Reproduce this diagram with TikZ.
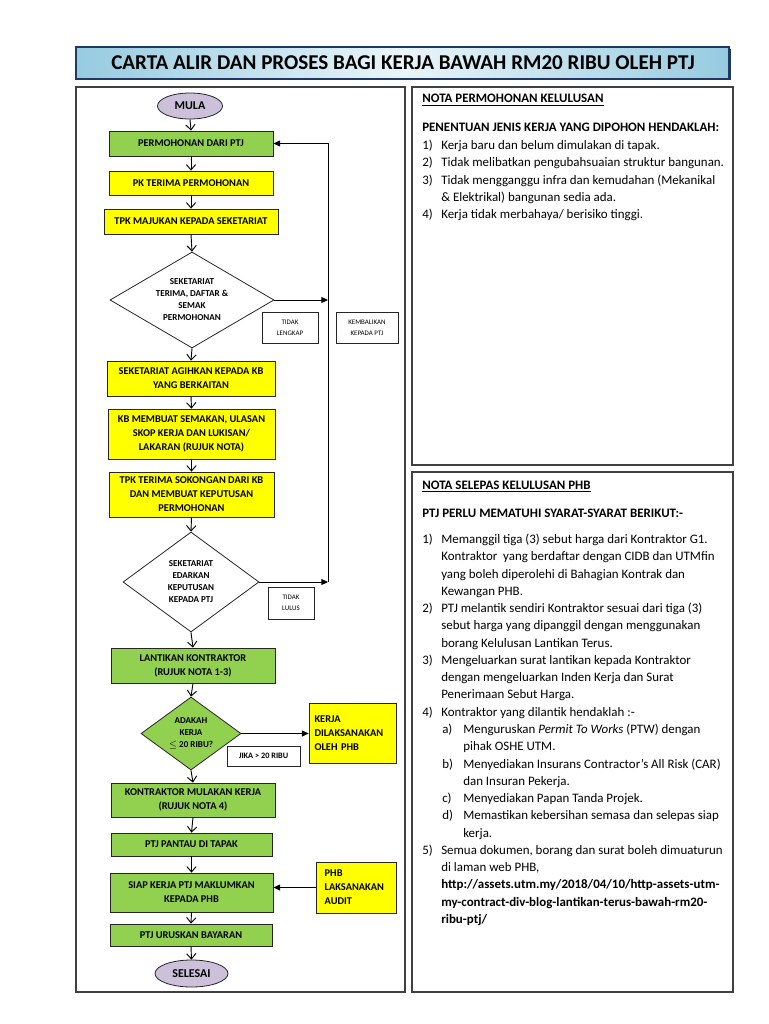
\documentclass[tikz,border=0pt]{standalone}
\usepackage{fontspec}
\setmainfont{Carlito}
\usetikzlibrary{shapes.geometric,arrows.meta}

\definecolor{hijau}{RGB}{146,208,80}
\definecolor{kuning}{RGB}{255,255,0}
\definecolor{ungu}{RGB}{204,192,218}
\definecolor{birutua}{RGB}{31,56,100}
\definecolor{birumuda}{RGB}{150,203,224}
\definecolor{biruputih}{RGB}{234,245,250}

\tikzset{
  kotak/.style={draw=black!85, line width=0.6pt, inner sep=1pt, align=center, font=\bfseries\fontsize{7.8}{10.5}\selectfont},
  kotakhijau/.style={kotak, fill=hijau},
  kotakkuning/.style={kotak, fill=kuning},
  keputusan/.style={diamond, draw=black!85, line width=0.6pt, inner sep=0pt, align=center, font=\bfseries\fontsize{6.8}{9}\selectfont},
  catatan/.style={draw=black!85, line width=0.5pt, fill=white, inner sep=1pt, align=center, font=\fontsize{5.2}{8}\selectfont},
  terminal/.style={ellipse, draw=black!85, line width=0.6pt, fill=ungu, inner sep=0pt, font=\bfseries\fontsize{9}{11}\selectfont},
  turun/.style={-{Straight Barb[length=4pt,width=7pt]}, line width=0.7pt},
  balik/.style={-{Triangle[length=5pt,width=4.5pt]}, line width=0.7pt},
  nota/.style={anchor=base west, inner sep=0pt, font=\fontsize{9.7}{11}\selectfont},
  notatebal/.style={nota, font=\bfseries\fontsize{9.7}{11}\selectfont},
}

\begin{document}
\begin{tikzpicture}[x=0.75pt,y=0.75pt,yscale=-1,xscale=1]
\useasboundingbox (0,0) rectangle (768,1024);

%Shape: Title Rectangle
\fill [birutua] (78,49) rectangle (730.5,80.5);
\draw [draw=birutua, line width=0.8pt, left color=birumuda, right color=birumuda, middle color=biruputih] (76,47) rectangle (729,79);
% Text Node
\node [inner sep=0pt, font=\bfseries\fontsize{15.8}{18}\selectfont] (judul) at (403,63) {CARTA ALIR DAN PROSES BAGI KERJA BAWAH RM20 RIBU OLEH PTJ};

%Shape: Panel Rectangles
\draw [black!75, line width=0.9pt] (76,87) rectangle (405,992);
\draw [black!75, line width=0.9pt] (412,87) rectangle (733,465);
\draw [black!75, line width=0.9pt] (412,472) rectangle (733,992);

%Flow nodes
\node [terminal, minimum width=48.75pt, minimum height=19.5pt] (mula) at (190,106) {MULA};
\node [kotakhijau, minimum width=123pt, minimum height=18.75pt] (perm) at (191,143.5) {PERMOHONAN DARI PTJ};
\node [kotakkuning, minimum width=123pt, minimum height=18pt] (pk) at (191,183) {PK TERIMA PERMOHONAN};
\node [kotakkuning, minimum width=130.5pt, minimum height=18.75pt] (tpk) at (191,221.5) {TPK MAJUKAN KEPADA SEKETARIAT};
\node [keputusan, aspect=1.71, minimum width=123pt, minimum height=72pt] (semak) at (192,300) {SEKETARIAT\\TERIMA, DAFTAR \&\\SEMAK\\PERMOHONAN};
\node [catatan, minimum width=42pt, minimum height=23.25pt] (lengkap) at (290,327.5) {TIDAK\\LENGKAP};
\node [catatan, minimum width=46.5pt, minimum height=23.25pt] (kembali) at (367,327.5) {KEMBALIKAN\\KEPADA PTJ};
\node [kotakkuning, minimum width=126pt, minimum height=26.25pt] (agih) at (191,378.5) {SEKETARIAT AGIHKAN KEPADA KB\\YANG BERKAITAN};
\node [kotakkuning, minimum width=125.25pt, minimum height=37.5pt] (semakan) at (191.5,434) {KB MEMBUAT SEMAKAN, ULASAN\\SKOP KERJA DAN LUKISAN/\\LAKARAN (RUJUK NOTA)};
\node [kotakkuning, minimum width=123.75pt, minimum height=33.75pt] (sokong) at (191.5,494.5) {TPK TERIMA SOKONGAN DARI KB\\DAN MEMBUAT KEPUTUSAN\\PERMOHONAN};
\node [keputusan, aspect=1.36, minimum width=102pt, minimum height=75pt] (edar) at (191,582) {SEKETARIAT\\EDARKAN\\KEPUTUSAN\\KEPADA PTJ};
\node [catatan, minimum width=34.5pt, minimum height=24pt] (lulus) at (291,603) {TIDAK\\LULUS};
\node [kotakhijau, minimum width=123pt, minimum height=26.25pt] (lantik) at (193,665.5) {LANTIKAN KONTRAKTOR\\(RUJUK NOTA 1-3)};
\node [keputusan, fill=hijau, aspect=1.37, minimum width=75pt, minimum height=54.75pt] (had) at (191,733.5) {ADAKAH\\KERJA\\$\leq$ 20 RIBU?};
\node [kotakkuning, align=left, text width=57pt, inner xsep=4.1pt, minimum height=45pt] (phb) at (352.5,733) {KERJA\\DILAKSANAKAN\\OLEH PHB};
\node [catatan, font=\bfseries\fontsize{6.2}{8}\selectfont, minimum width=54.75pt, minimum height=15pt] (jika) at (263.5,756) {JIKA > 20 RIBU};
\node [kotakhijau, minimum width=123pt, minimum height=25.5pt] (mulakan) at (193,800) {KONTRAKTOR MULAKAN KERJA\\(RUJUK NOTA 4)};
\node [kotakhijau, minimum width=120.75pt, minimum height=17.25pt] (pantau) at (191.5,844.5) {PTJ PANTAU DI TAPAK};
\node [kotakhijau, minimum width=122.25pt, minimum height=29.25pt] (siap) at (191.5,892.5) {SIAP KERJA PTJ MAKLUMKAN\\KEPADA PHB};
\node [kotakkuning, align=left, text width=47pt, inner xsep=6.5pt, minimum height=38.25pt] (audit) at (356,887.5) {PHB\\LAKSANAKAN\\AUDIT};
\node [kotakhijau, minimum width=121.5pt, minimum height=16.5pt] (bayar) at (191,935) {PTJ URUSKAN BAYARAN};
\node [terminal, minimum width=54.75pt, minimum height=20.25pt] (selesai) at (191.5,973.5) {SELESAI};

%Straight Lines
\foreach \a/\b in {mula/perm, perm/pk, pk/tpk, tpk/semak, semak/agih, agih/semakan, semakan/sokong, sokong/edar, edar/lantik, lantik/had, had/mulakan, mulakan/pantau, pantau/siap, siap/bayar, bayar/selesai}
  \draw [turun] (\a.south) -- (\b.north);

%Return line
\coordinate (balikatas) at (328,143.5);
\draw [balik] (semak.east) -- (semak.east -| balikatas);
\draw [balik] (edar.east) -- (edar.east -| balikatas);
\draw [balik] (edar.east -| balikatas) -- (balikatas) -- (perm.east);
\draw [balik] (had.east) -- (had.east -| phb.west);
\draw [balik] (audit.west) -- (audit.west -| siap.east);

% Text Node
\node [notatebal] (np-tajuk) at (422,103) {\underline{NOTA PERMOHONAN KELULUSAN}};
\node [notatebal] (np-syarat) at (422,131) {PENENTUAN JENIS KERJA YANG DIPOHON HENDAKLAH:};
\foreach \t [count=\k from 0] in {{Kerja baru dan belum dimulakan di tapak.}, {Tidak melibatkan pengubahsuaian struktur bangunan.}, {Tidak mengganggu infra dan kemudahan (Mekanikal}, {\& Elektrikal) bangunan sedia ada.}, {Kerja tidak merbahaya/ berisiko tinggi.}}
  \node [nota] (np-\k) at (441,149.5+\k*17.3) {\t};
\foreach \k/\n in {0/1), 1/2), 2/3), 4/4)}
  \node [nota] (npn-\k) at (422,149.5+\k*17.3) {\n};

% Text Node
\node [notatebal] (ns-tajuk) at (422,489) {\underline{NOTA SELEPAS KELULUSAN PHB}};
\node [notatebal] (ns-syarat) at (422,517) {PTJ PERLU MEMATUHI SYARAT-SYARAT BERIKUT:-};
\foreach \x/\t [count=\k from 0] in {441/{Memanggil tiga (3) sebut harga dari Kontraktor G1.}, 441/{Kontraktor~ yang berdaftar dengan CIDB dan UTMfin}, 441/{yang boleh diperolehi di Bahagian Kontrak dan}, 441/{Kewangan PHB.}, 441/{PTJ melantik sendiri Kontraktor sesuai dari tiga (3)}, 441/{sebut harga yang dipanggil dengan menggunakan}, 441/{borang Kelulusan Lantikan Terus.}, 441/{Mengeluarkan surat lantikan kepada Kontraktor}, 441/{dengan mengeluarkan Inden Kerja dan Surat}, 441/{Penerimaan Sebut Harga.}, 441/{Kontraktor yang dilantik hendaklah :-}, 463/{Menguruskan \textit{Permit To Works} (PTW) dengan}, 463/{pihak OSHE UTM.}, 463/{Menyediakan Insurans Contractor’s All Risk (CAR)}, 463/{dan Insuran Pekerja.}, 463/{Menyediakan Papan Tanda Projek.}, 463/{Memastikan kebersihan semasa dan selepas siap}, 463/{kerja.}, 441/{Semua dokumen, borang dan surat boleh dimuaturun}, 441/{di laman web PHB,}, 441/{\textbf{http://assets.utm.my/2018/04/10/http-assets-utm-}}, 441/{\textbf{my-contract-div-blog-lantikan-terus-bawah-rm20-}}, 441/{\textbf{ribu-ptj/}}}
  \node [nota] (ns-\k) at (\x,543.5+\k*17.27) {\t};
\foreach \k/\n in {0/1), 4/2), 7/3), 10/4), 18/5)}
  \node [nota] (nsn-\k) at (422,543.5+\k*17.27) {\n};
\foreach \k/\n in {11/a), 13/b), 15/c), 16/d)}
  \node [nota] (nsa-\k) at (442,543.5+\k*17.27) {\n};

\end{tikzpicture}
\end{document}
